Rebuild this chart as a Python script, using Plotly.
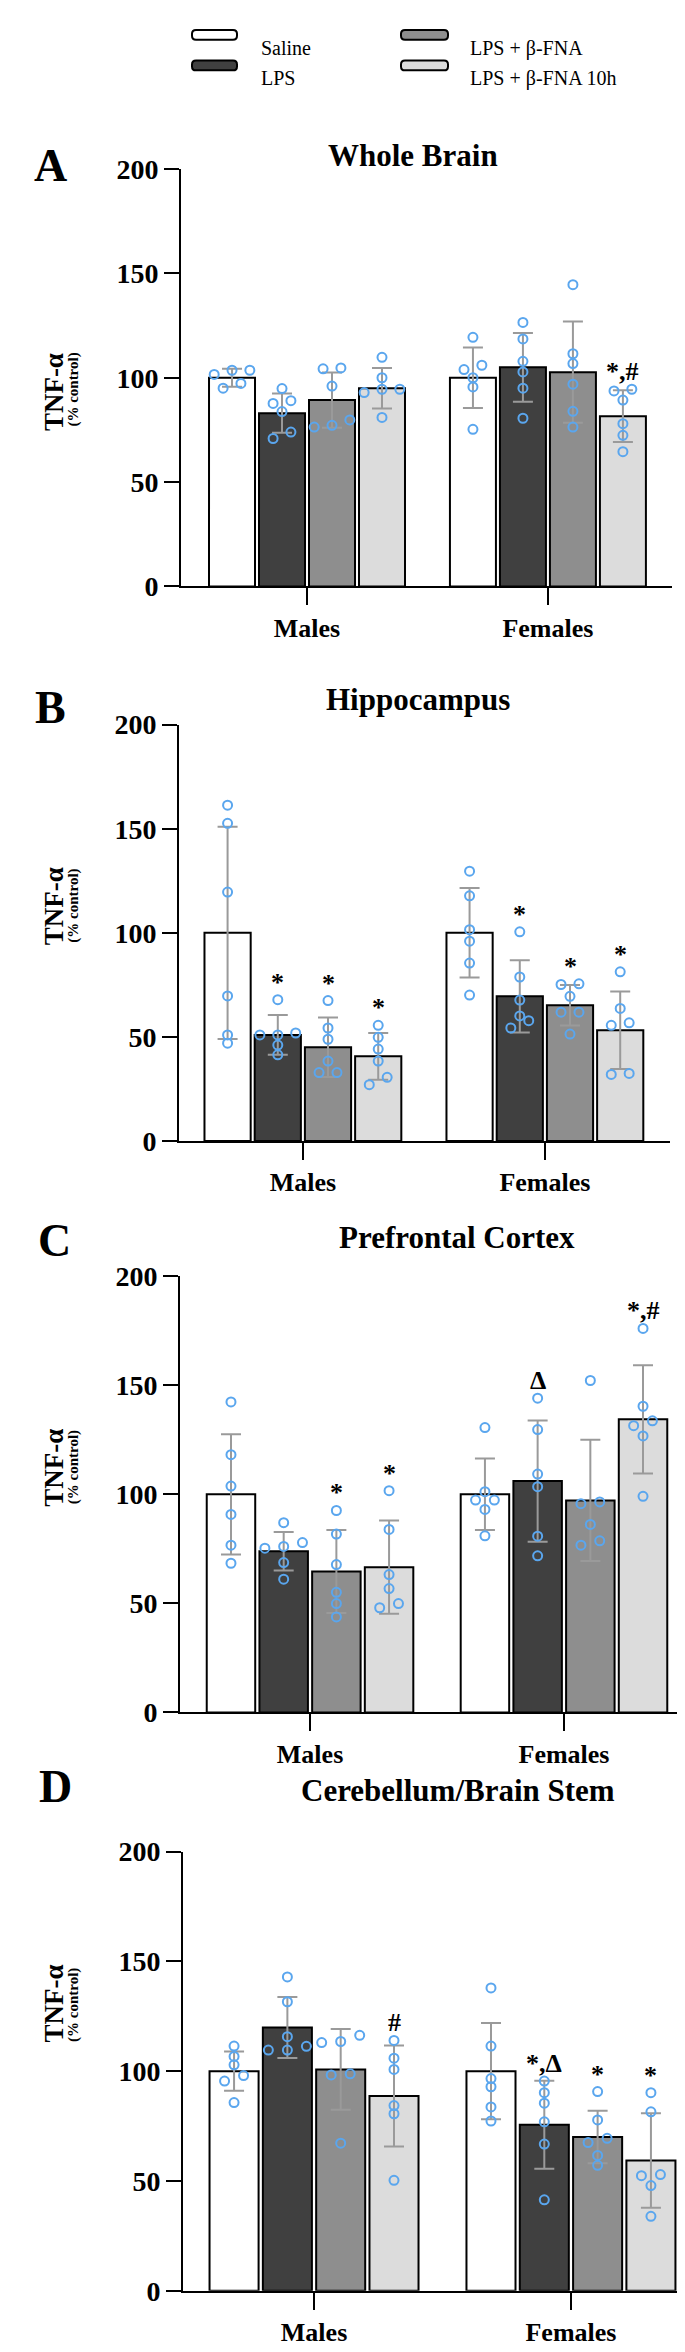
import plotly.graph_objects as go

sexes = ["Males", "Females"]
treatments = ["Saline", "LPS", "LPS + β-FNA", "LPS + β-FNA 10h"]
regions = ["Whole Brain", "Hippocampus", "Prefrontal Cortex", "Cerebellum/Brain Stem"]
letters = ["A", "B", "C", "D"]
y_ticks = [0, 50, 100, 150, 200]

# values are [sex][treatment] (% of control)
wb_mean = [[100, 83.0, 89.3, 95.0], [100, 105.0, 102.7, 81.6]]
wb_sd = [[4.3, 9.4, 13.2, 9.7], [14.5, 16.5, 24.3, 12.4]]
wb_pts = [
    [[103.6, 103.6, 101.6, 97.3, 95.0],
     [94.8, 89.0, 87.7, 83.8, 74.0, 70.9],
     [104.3, 104.7, 96.0, 79.8, 76.4, 77.2],
     [109.8, 100.0, 94.5, 92.9, 94.5, 81.0]],
    [[119.4, 106.0, 103.9, 100.0, 95.6, 75.3],
     [126.5, 118.6, 107.9, 102.8, 95.0, 80.6],
     [144.6, 111.5, 106.8, 96.9, 83.9, 76.4],
     [93.7, 94.5, 89.3, 78.0, 72.4, 64.6]],
]
wb_sig = [["", "", "", ""], ["", "", "", "*,#"]]

hc_mean = [[100, 51.0, 45.1, 40.7], [100, 69.5, 65.2, 53.2]]
hc_sd = [[51.0, 9.5, 14.3, 11.2], [21.5, 17.4, 9.7, 18.6]]
hc_pts = [
    [[161.3, 152.6, 119.6, 69.7, 51.0, 47.0],
     [67.9, 51.0, 51.9, 51.0, 46.1, 41.4],
     [67.5, 54.3, 48.9, 38.4, 32.9, 32.9],
     [55.6, 49.8, 44.2, 38.4, 30.6, 27.1]],
    [[129.6, 117.8, 101.5, 96.0, 85.5, 70.1],
     [100.5, 78.8, 67.7, 60.1, 57.8, 54.3],
     [75.2, 75.5, 69.5, 61.9, 61.9, 51.4],
     [81.3, 63.7, 55.6, 56.8, 32.0, 32.5]],
]
hc_sig = [["", "*", "*", "*"], ["", "*", "*", "*"]]

pfc_mean = [[100, 73.9, 64.6, 66.6], [100, 106.1, 97.2, 134.4]]
pfc_sd = [[27.6, 8.8, 19.0, 21.4], [16.4, 27.8, 27.8, 24.8]]
pfc_pts = [
    [[142.4, 118.2, 103.8, 90.8, 76.7, 68.4],
     [87.0, 77.9, 76.1, 75.3, 68.7, 61.1],
     [92.6, 81.8, 67.8, 55.1, 49.9, 43.8],
     [101.7, 83.9, 63.2, 56.8, 48.0, 49.9]],
    [[130.6, 101.2, 97.4, 97.4, 93.1, 81.0],
     [144.1, 129.7, 109.3, 103.5, 80.8, 71.8],
     [152.2, 96.5, 95.7, 86.2, 76.7, 78.7],
     [176.1, 140.4, 131.5, 133.7, 126.8, 99.1]],
]
pfc_sig = [["", "", "*", "*"], ["", "Δ", "", "*,#"]]

cb_mean = [[100, 119.9, 100.8, 88.7], [100, 75.6, 70.0, 59.3]]
cb_sd = [[8.9, 13.9, 18.4, 23.0], [21.9, 20.0, 12.0, 21.5]]
cb_pts = [
    [[111.4, 106.7, 102.9, 98.0, 95.5, 85.7],
     [142.9, 131.6, 115.7, 111.3, 109.6, 109.6],
     [116.3, 113.0, 113.5, 98.3, 98.8, 67.2],
     [114.0, 105.9, 100.8, 84.3, 80.6, 50.3]],
    [[137.9, 111.4, 96.6, 92.9, 83.7, 77.3],
     [95.5, 90.2, 85.4, 76.9, 66.8, 41.4],
     [90.7, 77.8, 67.5, 69.4, 61.6, 57.1],
     [90.2, 81.5, 52.4, 52.9, 47.9, 33.9]],
]
cb_sig = [["", "", "", "#"], ["", "*,Δ", "*", "*"]]

panels = [
    (wb_mean, wb_sd, wb_pts, wb_sig),
    (hc_mean, hc_sd, hc_pts, hc_sig),
    (pfc_mean, pfc_sd, pfc_pts, pfc_sig),
    (cb_mean, cb_sd, cb_pts, cb_sig),
]

# ---- styling / layout ----
W, H = 685, 2352
FONT = "Liberation Serif"
bar_colors = ["#ffffff", "#404040", "#8e8e8e", "#dcdcdc"]
dot_color = "#5aa6ee"
err_color = "#9a9a9a"
BARGAP, GROUPGAP = 0.17, 0.08
slot = (1 - BARGAP) / len(treatments)

# pixel boxes of each plot area: (left, right, top(200), bottom(0))
plot_px = [(173, 664, 148, 571), (171, 662, 711, 1133),
           (172, 685, 1270, 1712), (175, 685, 1853, 2298)]
x_ranges = [(-0.523, 1.515), (-0.512, 1.517), (-0.512, 1.508), (-0.51, 1.475)]
title_px = [(405, 115), (410, 666), (449, 1231), (450, 1811)]
letter_px = [(24, 117), (25, 666), (28, 1234), (29, 1815)]


def px(x, y):
    return x / W, 1 - y / H


def swarm(vals, thr=3.6, step=0.074):
    order = sorted(range(len(vals)), key=lambda i: vals[i])
    rows = []
    for i in order:
        if rows and vals[i] - vals[rows[-1][0]] < thr:
            rows[-1].append(i)
        else:
            rows.append([i])
    offs = [0.0] * len(vals)
    for r in rows:
        for j, i in enumerate(r):
            offs[i] = (j - (len(r) - 1) / 2) * step
    return offs


def pill(x0, x1, yc, h=10, rad=4):
    # rounded legend swatch, built in pixels and turned into paper coords
    y0, y1 = yc - h / 2, yc + h / 2
    pts = [("M", x0 + rad, y0), ("L", x1 - rad, y0), ("Q", x1, y0, x1, y0 + rad),
           ("L", x1, y1 - rad), ("Q", x1, y1, x1 - rad, y1), ("L", x0 + rad, y1),
           ("Q", x0, y1, x0, y1 - rad), ("L", x0, y0 + rad), ("Q", x0, y0, x0 + rad, y0)]
    out = ""
    for seg in pts:
        cmd, coords = seg[0], seg[1:]
        xy = []
        for i in range(0, len(coords), 2):
            a, b = px(coords[i], coords[i + 1])
            xy.append("%.5f,%.5f" % (a, b))
        out += cmd + " ".join(xy) + " "
    return out + "Z"


fig = go.Figure()
annotations = []
shapes = []
layout_axes = {}
bold = dict(family=FONT, color="black", weight="bold")

for p, (mean, sd, pts, sig) in enumerate(panels):
    n = "" if p == 0 else str(p + 1)
    xa, ya = "x" + n, "y" + n
    for k, tr in enumerate(treatments):
        fig.add_trace(go.Bar(
            x=[0, 1], y=[mean[0][k], mean[1][k]], name=tr, offsetgroup=str(k),
            marker=dict(color=bar_colors[k], line=dict(color="black", width=2)),
            error_y=dict(type="data", array=[sd[0][k], sd[1][k]], color=err_color,
                         thickness=2, width=10),
            xaxis=xa, yaxis=ya, showlegend=False, hoverinfo="skip"))
    for k, tr in enumerate(treatments):
        xs, ys = [], []
        for g in range(len(sexes)):
            vals = pts[g][k]
            offs = swarm(vals)
            xs += [g + (k - 1.5) * slot + o for o in offs]
            ys += vals
        fig.add_trace(go.Scatter(
            x=xs, y=ys, mode="markers", xaxis=xa, yaxis=ya, showlegend=False,
            marker=dict(symbol="circle-open", size=9, color=dot_color,
                        line=dict(width=2, color=dot_color)),
            cliponaxis=False, hoverinfo="skip"))
        for g in range(len(sexes)):
            if sig[g][k]:
                top = max(max(pts[g][k]), mean[g][k] + sd[g][k])
                annotations.append(dict(
                    x=g + (k - 1.5) * slot, y=top, xref=xa, yref=ya, text=sig[g][k],
                    showarrow=False, yanchor="bottom", yshift=1,
                    font=dict(bold, size=26)))

    l, r, t, b = plot_px[p]
    x0, _ = px(l, 0)
    x1, _ = px(r, 0)
    _, y1 = px(0, t)
    _, y0 = px(0, b)
    layout_axes["xaxis" + n] = dict(
        domain=[x0, min(x1, 1)], range=list(x_ranges[p]), anchor=ya,
        tickvals=[0, 1], ticktext=sexes, ticks="outside", ticklen=17, tickwidth=2,
        tickcolor="black", showline=True, linewidth=2, linecolor="black",
        showgrid=False, zeroline=False, tickfont=dict(bold, size=26))
    layout_axes["yaxis" + n] = dict(
        domain=[y0, y1], range=[0, 200], anchor=xa, tickvals=y_ticks,
        ticks="outside", ticklen=15, tickwidth=2, tickcolor="black",
        showline=True, linewidth=2, linecolor="black", showgrid=False, zeroline=False,
        tickfont=dict(bold, size=28))

    tx, ty = px(*title_px[p])
    annotations.append(dict(x=tx, y=ty, xref="paper", yref="paper", text=regions[p],
                            showarrow=False, font=dict(bold, size=31)))
    lx, ly = px(*letter_px[p])
    annotations.append(dict(x=lx, y=ly, xref="paper", yref="paper", text=letters[p],
                            showarrow=False, font=dict(bold, size=46)))
    mid = (t + b) / 2 - 27
    ax1, ay1 = px(29, mid)
    annotations.append(dict(x=ax1, y=ay1, xref="paper", yref="paper", text="TNF-α",
                            textangle=-90, showarrow=False, font=dict(bold, size=27)))
    ax2, ay2 = px(55, mid)
    annotations.append(dict(x=ax2, y=ay2, xref="paper", yref="paper", text="(% control)",
                            textangle=-90, showarrow=False, font=dict(bold, size=15)))

# legend (2 columns, column-major)
leg_cols = [(184, 229, 251), (393, 440, 460)]
leg_rows = [12, 43]
for k, tr in enumerate(treatments):
    sx0, sx1, tx = leg_cols[k // 2]
    cy = leg_rows[k % 2]
    shapes.append(dict(type="path", xref="paper", yref="paper", path=pill(sx0, sx1, cy),
                       fillcolor=bar_colors[k], line=dict(color="black", width=2)))
    qx, qy = px(tx, cy)
    annotations.append(dict(x=qx, y=qy, xref="paper", yref="paper", text=tr, xanchor="left",
                            showarrow=False, font=dict(family=FONT, size=20, color="black")))

fig.update_layout(
    width=W, height=H, margin=dict(l=0, r=0, t=0, b=0),
    paper_bgcolor="white", plot_bgcolor="white",
    barmode="group", bargap=BARGAP, bargroupgap=GROUPGAP,
    annotations=annotations, shapes=shapes, showlegend=False,
    **layout_axes)

fig.write_html("out.html")
